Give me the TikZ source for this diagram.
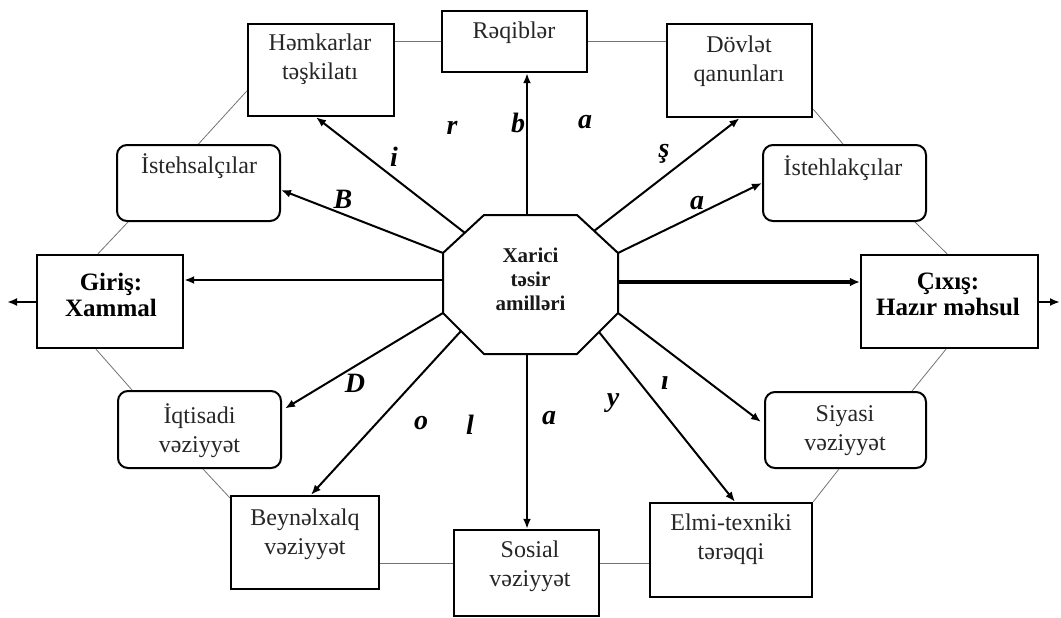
\documentclass[tikz,border=0pt]{standalone}
\usepackage{fontspec}
\setmainfont{Liberation Serif}
\usetikzlibrary{arrows.meta}
\begin{document}
\begin{tikzpicture}[x=1pt,y=-1pt,
  box/.style={draw=black, line width=2.4pt, rectangle, inner sep=0pt},
  rbox/.style={box, line width=2pt, rounded corners=10pt},
  txt/.style={text=black!85, align=center, inner sep=0pt, font=\fontsize{24}{29}\selectfont},
  btxt/.style={text=black, align=center, inner sep=0pt, font=\bfseries\fontsize{25}{26}\selectfont},
  otxt/.style={text=black!90, align=center, inner sep=0pt, font=\bfseries\fontsize{21}{24}\selectfont},
  lab/.style={inner sep=0pt, font=\bfseries\itshape\fontsize{28}{28}\selectfont},
  arr/.style={line width=2pt, -{Latex[length=10pt,width=8pt]}},
  tarr/.style={line width=4pt, -{Latex[length=10pt,width=9pt]}},
  ring/.style={draw=black!55, line width=0.8pt}
]
\useasboundingbox (0,0) rectangle (1061,618);

% boxes
\node[box, minimum width=146, minimum height=92] (ham) at (321,70) {};
\node[box, minimum width=145, minimum height=61] (raq) at (514.5,41.5) {};
\node[box, minimum width=145, minimum height=93] (dov) at (739.5,70.5) {};
\node[rbox, minimum width=163, minimum height=76] (isa) at (198.5,183) {};
\node[rbox, minimum width=163, minimum height=76] (isl) at (844.5,183) {};
\node[box, minimum width=146, minimum height=93] (gir) at (110,301.5) {};
\node[box, minimum width=177, minimum height=93] (cix) at (949.5,301.5) {};
\node[rbox, minimum width=163, minimum height=77] (iqt) at (199.5,429.5) {};
\node[box, minimum width=148, minimum height=93] (bey) at (305,542.5) {};
\node[box, minimum width=145, minimum height=86] (sos) at (526.5,573) {};
\node[box, minimum width=162, minimum height=94] (elm) at (731,550) {};
\node[rbox, minimum width=161, minimum height=76] (siy) at (845.5,430) {};

% texts
\node[txt] (tham) at (320,59) {Həmkarlar\\təşkilatı};
\node[txt] (traq) at (514,33) {Rəqiblər};
\node[txt] (tdov) at (739,61) {Dövlət\\qanunları};
\node[txt] (tisa) at (199,166) {İstehsalçılar};
\node[txt] (tisl) at (843,168) {İstehlakçılar};
\node[btxt] (tgir) at (111,294.5) {Giriş:\\Xammal};
\node[btxt] (tcix) at (948,294.5) {Çıxış:\\Hazır məhsul};
\node[txt] (tiqt) at (199.5,431) {İqtisadi\\vəziyyət};
\node[txt] (tbey) at (305,534) {Beynəlxalq\\vəziyyət};
\node[txt] (tsos) at (530,566) {Sosial\\vəziyyət};
\node[txt] (telm) at (731,539.5) {Elmi-texniki\\tərəqqi};
\node[txt] (tsiy) at (845,431) {Siyasi\\vəziyyət};

% octagon
\coordinate (v1) at (484,215);
\coordinate (v2) at (577,215);
\coordinate (v3) at (618,253);
\coordinate (v4) at (618,313);
\coordinate (v5) at (577,354);
\coordinate (v6) at (484,354);
\coordinate (v7) at (443,313);
\coordinate (v8) at (443,253);
\draw[line width=2pt, fill=white, line join=miter] (v1) -- (v2) -- (v3) -- (v4) -- (v5) -- (v6) -- (v7) -- (v8) -- cycle;
\node[otxt] (oct) at (530.5,279) {Xarici\\təsir\\amilləri};

% arrow start points on the octagon
\coordinate (oHam) at (465,233);
\coordinate (oGir) at (443,280);
\coordinate (oRaq) at (527,215);
\coordinate (oDov) at (594,231);
\coordinate (oCix) at (618,282);
\coordinate (oElm) at (599,332);
\coordinate (oSos) at (527,354);
\coordinate (oBey) at (461,331);

% arrows
\draw[arr] (oHam) -- ([xshift=-5pt]ham.south);
\draw[arr] (v8) -- ([yshift=-7pt]isa.east);
\draw[arr] (oGir) -- (oGir -| gir.east);
\draw[arr] (oRaq) -- (oRaq |- raq.south);
\draw[arr] (oDov) -- (dov.south);
\draw[arr] (v3) -- (isl.west);
\draw[tarr] (oCix) -- (oCix -| cix.west);
\draw[arr] (v4) -- ([xshift=-3pt,yshift=8pt]siy.west);
\draw[arr] (oElm) -- ([xshift=4pt]elm.north);
\draw[arr] (oSos) -- (oSos |- sos.north);
\draw[arr] (oBey) -- ([xshift=6pt]bey.north);
\draw[arr] (v7) -- ([xshift=3pt,yshift=21pt]iqt.east);

% outputs
\coordinate (outL) at (7,302);
\coordinate (outR) at (1060,302);
\draw[arr] (gir.west |- outL) -- (outL);
\draw[arr] (cix.east |- outR) -- (outR);

% ring
\draw[ring] (raq.west) -- (raq.west -| ham.east);
\draw[ring] (raq.east) -- (raq.east -| dov.west);
\draw[ring] ([yshift=9pt]dov.south east) -- ([xshift=-1.5pt]isl.north);
\draw[ring] ([xshift=70.5pt]isl.south) -- ([xshift=-2.5pt]cix.north);
\draw[ring] ([xshift=-3.5pt]cix.south) -- ([xshift=66.5pt]siy.north);
\draw[ring] ([xshift=-6.5pt]siy.south) -- (elm.north east);
\draw[ring] ([yshift=10pt]sos.east) -- ([yshift=10pt]sos.east -| elm.west);
\draw[ring] ([yshift=10pt]sos.west) -- ([yshift=10pt]sos.west -| bey.east);
\draw[ring] ([yshift=-3pt]bey.north west) -- ([xshift=3.5pt]iqt.south);
\draw[ring] ([xshift=-67.5pt]iqt.north) -- ([xshift=-14pt]gir.south);
\draw[ring] ([xshift=-12pt]gir.north) -- ([xshift=-70.5pt]isa.south);
\draw[ring] (isa.north) -- ([yshift=-21pt]ham.west);

% letters
\node[lab] (l1) at (394,157) {i};
\node[lab] (l2) at (452,128) {r};
\node[lab] (l3) at (518,123) {b};
\node[lab] (l4) at (585,122) {a};
\node[lab] (l5) at (664,154) {ş};
\node[lab] (l6) at (697,203) {a};
\node[lab] (l7) at (343,199) {B};
\node[lab] (l8) at (355,383) {D};
\node[lab] (l9) at (421,423) {o};
\node[lab] (l10) at (470,425) {l};
\node[lab] (l11) at (549,418) {a};
\node[lab] (l12) at (613,403) {y};
\node[lab] (l13) at (665,383) {ı};
\end{tikzpicture}
\end{document}
